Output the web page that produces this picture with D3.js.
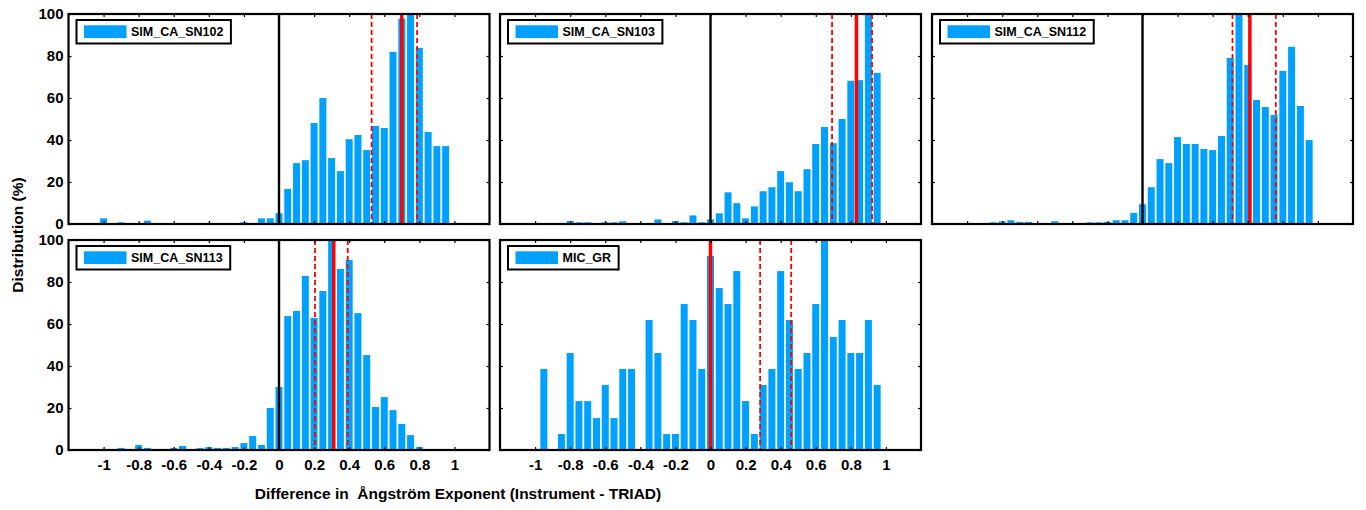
<!DOCTYPE html>
<html>
<head>
<meta charset="utf-8">
<script src="https://cdn.jsdelivr.net/npm/d3@7"></script>
<style>
body { margin: 0; background: #fff; }
text { font-family: "Liberation Sans", Arial, Helvetica, sans-serif; font-weight: bold; fill: #000; }
</style>
</head>
<body>
<div id="chart"></div>
<script>
const width = 1366, height = 510;

// bin centres of the histograms (bin width 0.05)
var binCenters = [-1.00, -0.95, -0.90, -0.85, -0.80, -0.75, -0.70, -0.65, -0.60, -0.55,
                  -0.50, -0.45, -0.40, -0.35, -0.30, -0.25, -0.20, -0.15, -0.10, -0.05,
                   0.00,  0.05,  0.10,  0.15,  0.20,  0.25,  0.30,  0.35,  0.40,  0.45,
                   0.50,  0.55,  0.60,  0.65,  0.70,  0.75,  0.80,  0.85,  0.90,  0.95];
var xTicks = [-1, -0.8, -0.6, -0.4, -0.2, 0, 0.2, 0.4, 0.6, 0.8, 1];
var yTicks = [0, 20, 40, 60, 80, 100];

var names = ["SIM_CA_SN102", "SIM_CA_SN103", "SIM_CA_SN112", "SIM_CA_SN113", "MIC_GR"];

var sn102 = [2.7, 0, 0.8, 0, 0, 1.6, 0, 0, 0, 0, 0, 0, 0, 0, 0, 0, 0.8, 0, 2.7, 2.7,
             5.1, 16.7, 29.0, 30.4, 48.1, 60.0, 31.4, 25.2, 40.4, 42.4, 35.2, 46.7, 45.7, 82.0, 97.8, 100, 83.9, 43.8, 37.1, 37.1];
var sn103 = [0, 0, 0, 0, 1.4, 0.8, 0.8, 0, 0.8, 0.8, 1.3, 0, 0, 0, 2.2, 0, 1.4, 0.8, 4.1, 0.8,
             2.2, 5.1, 15.1, 9.9, 2.7, 8.4, 15.6, 17.5, 25.2, 19.9, 15.6, 26.1, 38.1, 46.2, 38.5, 50.0, 68.2, 68.5, 100, 72.0];
var sn112 = [0, 0, 0, 0.8, 1.3, 1.8, 1.0, 1.0, 0, 0, 1.3, 0, 0, 0, 0.8, 0.8, 1.0, 1.8, 1.8, 5.3,
             9.4, 17.5, 30.9, 29.0, 41.4, 38.1, 38.1, 35.7, 35.2, 41.9, 79.1, 100, 75.8, 59.1, 55.7, 51.9, 72.9, 84.4, 56.2, 40.0];
var sn113 = [0, 0, 1.0, 0, 2.4, 1.0, 0, 0, 1.0, 1.9, 0, 1.0, 1.4, 1.0, 1.0, 1.4, 3.3, 6.7, 2.4, 20.0,
             30.0, 63.8, 66.2, 82.9, 62.9, 75.7, 100, 86.2, 90.5, 65.2, 45.2, 20.5, 25.2, 19.0, 12.4, 7.1, 1.4, 0, 0, 0];
var micGr = [0, 38.6, 0, 7.6, 46.2, 23.3, 23.3, 15.2, 31.0, 15.2, 38.6, 38.6, 0, 61.9, 46.2, 7.6, 7.6, 69.5, 61.9, 38.6,
             92.4, 77.1, 69.5, 85.2, 23.3, 7.6, 31.0, 38.6, 85.2, 61.9, 38.6, 46.2, 69.5, 100, 53.8, 61.9, 46.2, 46.2, 61.9, 31.0];

// red reference lines: median (solid) and quartiles (dashed)
var medians = [0.700, 0.832, 0.612, 0.312, 0.000];
var lowerQ  = [0.528, 0.693, 0.513, 0.205, 0.283];
var upperQ  = [0.787, 0.921, 0.760, 0.392, 0.460];

var series = [sn102, sn103, sn112, sn113, micGr];

var colLeft = [68.5, 500, 932], rowTop = [14, 240];
var pw = 421, ph = 210;
var barColor = "#00a0ff";

const svg = d3.select("#chart").append("svg")
    .attr("width", width)
    .attr("height", height);

var x = d3.scaleLinear().domain([-1.2, 1.2]).range([0, pw]);
var y = d3.scaleLinear().domain([0, 100]).range([ph, 0]);
var bw = (x(0.05) - x(0)) * 0.8;
var fmt = function(d) { return String(d); };

series.forEach(function(vals, i) {
    var col = i % 3, row = Math.floor(i / 3);
    var g = svg.append("g").attr("transform", "translate(" + colLeft[col] + "," + rowTop[row] + ")");

    g.append("clipPath").attr("id", "clip" + i)
      .append("rect").attr("width", pw).attr("height", ph);

    var inner = g.append("g").attr("clip-path", "url(#clip" + i + ")");

    inner.selectAll("rect.bar")
        .data(binCenters)
        .enter()
        .append("rect")
        .attr("class", "bar")
        .attr("x", function(d) { return x(d) - bw / 2; })
        .attr("y", function(d, j) { return y(vals[j]); })
        .attr("width", bw)
        .attr("height", function(d, j) { return ph - y(vals[j]); })
        .style("fill", barColor);

    inner.append("line")
        .attr("x1", x(0)).attr("x2", x(0))
        .attr("y1", 0).attr("y2", ph)
        .style("stroke", "#000").style("stroke-width", 2.4);

    [lowerQ[i], upperQ[i]].forEach(function(v) {
        inner.append("line")
            .attr("x1", x(v)).attr("x2", x(v))
            .attr("y1", 0).attr("y2", ph)
            .style("stroke", "#ff0000").style("stroke-width", 1.8)
            .style("stroke-dasharray", "5,3");
    });

    inner.append("line")
        .attr("x1", x(medians[i])).attr("x2", x(medians[i]))
        .attr("y1", 0).attr("y2", ph)
        .style("stroke", "#ff0000").style("stroke-width", 3.5);

    // ticks on all four sides, pointing inwards
    var bottom = g.append("g").attr("transform", "translate(0," + ph + ")")
        .call(d3.axisBottom(x).tickValues(xTicks).tickSize(-3).tickPadding(9)
              .tickFormat(row == 1 ? fmt : ""));
    var top = g.append("g")
        .call(d3.axisTop(x).tickValues(xTicks).tickSize(-3).tickFormat(""));
    var left = g.append("g")
        .call(d3.axisLeft(y).tickValues(yTicks).tickSize(-3).tickPadding(5)
              .tickFormat(col == 0 ? fmt : ""));
    var right = g.append("g").attr("transform", "translate(" + pw + ",0)")
        .call(d3.axisRight(y).tickValues(yTicks).tickSize(-3).tickFormat(""));

    [bottom, top, left, right].forEach(function(a) {
        a.select(".domain").remove();
        a.selectAll("line").style("stroke", "#000").style("stroke-width", 1.2);
        a.selectAll("text").style("font-size", "15px").style("font-family", null);
    });

    g.append("rect")
        .attr("width", pw).attr("height", ph)
        .style("fill", "none").style("stroke", "#000").style("stroke-width", 2.2);

    // legend
    var leg = g.append("g").attr("transform", "translate(8,6)");
    var legBox = leg.append("rect")
        .attr("height", 23.5)
        .style("fill", "#fff").style("stroke", "#000").style("stroke-width", 2);
    leg.append("rect")
        .attr("x", 7.5).attr("y", 5.3)
        .attr("width", 42.5).attr("height", 12.7)
        .style("fill", barColor);
    var lt = leg.append("text")
        .attr("x", 54.5).attr("y", 11.8)
        .attr("dy", "0.36em")
        .style("font-size", "12.5px")
        .text(names[i]);
    legBox.attr("width", 54.5 + lt.node().getComputedTextLength() + 7.5);
});

svg.append("text")
    .attr("transform", "translate(23,235) rotate(-90)")
    .attr("text-anchor", "middle")
    .style("font-size", "15.5px")
    .text("Distribution (%)");

svg.append("text")
    .attr("x", 458).attr("y", 499)
    .attr("text-anchor", "middle")
    .style("font-size", "15.5px")
    .style("white-space", "pre")
    .text("Difference in  \u00c5ngstr\u00f6m Exponent (Instrument - TRIAD)");
</script>
</body>
</html>
